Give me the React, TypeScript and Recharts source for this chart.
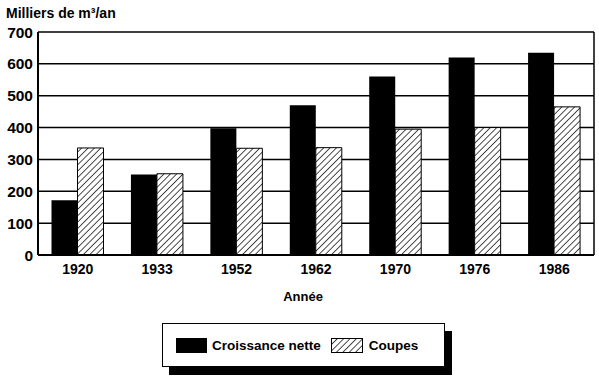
import { BarChart, Bar, XAxis, YAxis, CartesianGrid, Legend } from "recharts";

const years = ["1920", "1933", "1952", "1962", "1970", "1976", "1986"];
const croissance = [172, 253, 398, 470, 560, 620, 635];
const coupes = [336, 255, 335, 337, 395, 400, 465];
const yTicks = [0, 100, 200, 300, 400, 500, 600, 700];

const data = years.map((year, i) => ({
  year,
  croissance: croissance[i],
  coupes: coupes[i],
}));

const FONT = "'Liberation Sans', Arial, Helvetica, sans-serif";

function LegendBox() {
  return (
    <div
      style={{
        boxSizing: "border-box",
        width: 283,
        height: 44,
        border: "1px solid #000",
        background: "#fff",
        boxShadow: "7px 8px 0 #000",
        display: "flex",
        alignItems: "center",
        fontFamily: FONT,
        fontSize: 13.5,
        fontWeight: "bold",
        color: "#000",
        paddingLeft: 13,
      }}
    >
      <svg width={31} height={15} style={{ marginRight: 5 }}>
        <rect x={0} y={0} width={31} height={15} fill="#000" />
      </svg>
      <span style={{ marginRight: 10 }}>Croissance nette</span>
      <svg width={32} height={15} style={{ marginRight: 6 }}>
        <rect x={0.5} y={0.5} width={31} height={14} fill="url(#hatch)" stroke="#000" />
      </svg>
      <span>Coupes</span>
    </div>
  );
}

export default function App() {
  return (
    <div style={{ position: "absolute", left: 0, top: 0, width: 599, height: 380, background: "#fff" }}>
      <svg width={0} height={0} style={{ position: "absolute" }}>
        <defs>
          <pattern id="hatch" patternUnits="userSpaceOnUse" width={4.5} height={4.5} patternTransform="rotate(45)">
            <rect width={4.5} height={4.5} fill="#fff" />
            <line x1={0} y1={0} x2={0} y2={4.5} stroke="#000" strokeWidth={1.4} />
          </pattern>
        </defs>
      </svg>
      <BarChart
        width={599}
        height={380}
        data={data}
        margin={{ top: 32, right: 5, left: 0, bottom: 13 }}
        barCategoryGap="17%"
        barGap={0}
        style={{ fontFamily: FONT }}
      >
        <CartesianGrid
          stroke="#000"
          strokeWidth={1.5}
          verticalCoordinatesGenerator={({ offset }: any) => [offset.left + offset.width]}
        />
        <XAxis
          dataKey="year"
          height={68}
          tickLine={false}
          tickSize={0}
          tickMargin={9}
          axisLine={{ stroke: "#000", strokeWidth: 2 }}
          tick={{ fill: "#000", fontSize: 14, fontWeight: "bold" }}
          label={({ viewBox }: any) => (
            <text
              x={viewBox.x + viewBox.width / 2 - 13}
              y={viewBox.y + 46}
              textAnchor="middle"
              fill="#000"
              fontSize={13}
              fontWeight="bold"
              fontFamily={FONT}
            >
              Année
            </text>
          )}
        />
        <YAxis
          width={38}
          domain={[0, 700]}
          ticks={yTicks}
          tickLine={false}
          tickSize={0}
          tickMargin={5}
          axisLine={{ stroke: "#000", strokeWidth: 2 }}
          tick={{ fill: "#000", fontSize: 15.5, fontWeight: "bold" }}
          label={({ viewBox }: any) => (
            <text
              x={viewBox.x + 6}
              y={viewBox.y - 14}
              fill="#000"
              fontSize={14}
              fontWeight="bold"
              fontFamily={FONT}
            >
              Milliers de m³/an
            </text>
          )}
        />
        <Legend
          verticalAlign="bottom"
          content={() => <LegendBox />}
          wrapperStyle={{ left: 162, width: 283 }}
        />
        <Bar dataKey="croissance" name="Croissance nette" fill="#000" isAnimationActive={false} />
        <Bar
          dataKey="coupes"
          name="Coupes"
          fill="url(#hatch)"
          stroke="#000"
          strokeWidth={1}
          isAnimationActive={false}
        />
      </BarChart>
    </div>
  );
}
